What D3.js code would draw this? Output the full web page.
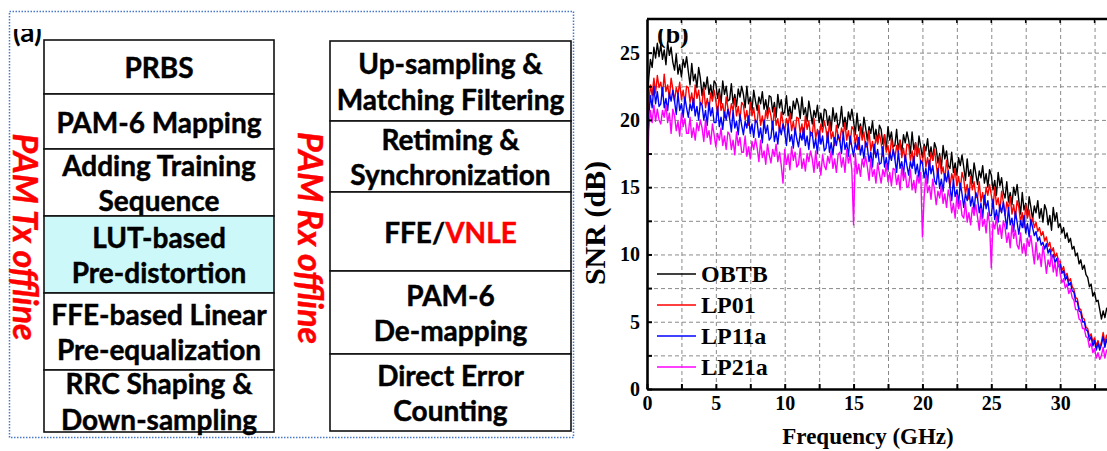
<!DOCTYPE html>
<html>
<head>
<meta charset="utf-8">
<script src="https://cdn.jsdelivr.net/npm/d3@7"></script>
<style>
  body { margin: 0; background: #fff; }
  .block { font-family: Lato, "Open Sans", sans-serif; font-weight: bold; font-size: 28px; stroke-width: 0.45px; }
  .side { font-family: Lato, "Open Sans", sans-serif; font-weight: bold; font-style: italic; font-size: 34px; fill: #ff0000; stroke: #ff0000; stroke-width: 0.4px; }
  .serif { font-family: "Liberation Serif", "Times New Roman", serif; font-weight: bold; fill: #000; }
</style>
</head>
<body>
<div id="fig"></div>
<script>
// ---- data -----------------------------------------------------------
// left panel: processing blocks (one entry per box, one string per text line)
var txBlocks = [
    ["PRBS"],
    ["PAM-6 Mapping"],
    ["Adding Training", "Sequence"],
    ["LUT-based", "Pre-distortion"],
    ["FFE-based Linear", "Pre-equalization"],
    ["RRC Shaping &", "Down-sampling"]
];
var rxBlocks = [
    ["Up-sampling &", "Matching Filtering"],
    ["Retiming &", "Synchronization"],
    ["FFE/|VNLE"],
    ["PAM-6", "De-mapping"],
    ["Direct Error", "Counting"]
];
var highlightedBlock = "LUT-based";

// right panel: SNR (dB), one sample every 0.125 GHz starting at 0 GHz (8 per row = 1 GHz)
var freqStep = 0.125;
var obtb = [
    20.5, 23.1, 24.5, 23.9, 25.4, 24.6, 25.7, 24.7,
    25.6, 24.5, 25.2, 24.1, 25.8, 24.8, 25.4, 24.3,
    23.7, 24.9, 23.4, 24.1, 23.2, 24.5, 23.9, 24.7,
    23.6, 22.6, 24.2, 22.9, 23.4, 22.4, 23.9, 23.1,
    21.8, 22.8, 22.3, 23.2, 21.9, 22.6, 21.6, 22.9,
    22.7, 21.6, 22.3, 21.2, 22.9, 21.9, 22.5, 21.4,
    21.5, 22.7, 21.2, 21.9, 21.0, 22.3, 21.7, 22.5,
    21.9, 20.9, 22.5, 21.2, 21.7, 20.7, 22.2, 21.4,
    20.7, 21.7, 21.2, 22.1, 20.8, 21.5, 20.5, 21.8,
    21.7, 20.6, 21.3, 20.2, 21.9, 20.9, 21.5, 20.4,
    20.6, 21.8, 20.3, 21.0, 20.1, 21.4, 20.8, 21.6,
    21.1, 20.1, 21.7, 20.4, 20.9, 19.9, 21.4, 20.6,
    19.7, 20.7, 20.2, 21.1, 19.8, 20.5, 19.5, 20.8,
    20.7, 19.6, 20.3, 19.2, 20.9, 19.9, 20.5, 19.4,
    19.8, 21.0, 19.5, 20.2, 19.3, 20.6, 20.0, 20.8,
    19.9, 18.9, 20.5, 19.2, 19.7, 18.7, 20.2, 19.4,
    18.5, 19.5, 19.0, 19.9, 18.6, 19.3, 18.3, 19.6,
    19.3, 18.2, 18.9, 17.8, 19.5, 18.5, 19.1, 18.0,
    18.1, 19.3, 17.8, 18.5, 17.6, 18.9, 18.3, 19.1,
    18.5, 17.5, 19.1, 17.8, 18.3, 17.3, 18.8, 18.0,
    17.2, 18.2, 17.7, 18.6, 17.3, 18.0, 17.0, 18.3,
    17.9, 16.8, 17.5, 16.4, 18.1, 17.1, 17.7, 16.6,
    16.4, 17.6, 16.1, 16.8, 15.9, 17.2, 16.6, 17.4,
    16.5, 15.5, 17.1, 15.8, 16.3, 15.3, 16.8, 16.0,
    15.2, 16.2, 15.7, 16.6, 15.3, 16.0, 15.0, 16.3,
    15.9, 14.8, 15.5, 14.4, 16.1, 15.1, 15.7, 14.6,
    14.2, 15.4, 13.9, 14.6, 13.7, 15.0, 14.4, 15.2,
    14.0, 13.0, 14.6, 13.3, 13.8, 12.8, 14.3, 13.5,
    12.6, 13.6, 13.1, 14.0, 12.7, 13.4, 12.4, 13.7,
    13.3, 12.2, 12.9, 11.8, 13.5, 12.5, 13.1, 12.0,
    12.3, 11.6, 12.0, 11.2, 11.6, 10.9, 11.2, 10.4,
    10.6, 9.9, 10.1, 9.3, 9.6, 8.9, 9.2, 8.5,
    8.3, 7.6, 7.8, 6.9, 7.2, 6.5, 6.6, 5.9,
    5.2, 5.8, 5.3, 6.0, 5.6
];
var lp01 = [
    18.5, 21.2, 22.6, 21.8, 23.1, 22.0, 23.3, 22.4,
    22.8, 21.8, 23.4, 22.1, 22.6, 21.6, 23.1, 22.3,
    21.4, 22.4, 21.9, 22.8, 21.5, 22.2, 21.2, 22.5,
    22.4, 21.3, 22.0, 20.9, 22.6, 21.6, 22.2, 21.1,
    21.2, 22.4, 20.9, 21.6, 20.7, 22.0, 21.4, 22.2,
    21.4, 20.4, 22.0, 20.7, 21.2, 20.2, 21.7, 20.9,
    20.2, 21.2, 20.7, 21.6, 20.3, 21.0, 20.0, 21.3,
    21.1, 20.0, 20.7, 19.6, 21.3, 20.3, 20.9, 19.8,
    19.9, 21.1, 19.6, 20.3, 19.4, 20.7, 20.1, 20.9,
    20.3, 19.3, 20.9, 19.6, 20.1, 19.1, 20.6, 19.8,
    19.1, 20.1, 19.6, 20.5, 19.2, 19.9, 18.9, 20.2,
    20.1, 19.0, 19.7, 18.6, 20.3, 19.3, 19.9, 18.8,
    18.9, 20.1, 18.6, 19.3, 18.4, 19.7, 19.1, 19.9,
    19.3, 18.3, 19.9, 18.6, 19.1, 18.1, 19.6, 18.8,
    18.4, 19.4, 18.9, 19.8, 18.5, 19.2, 18.2, 19.5,
    19.3, 18.2, 18.9, 17.8, 19.5, 18.5, 19.1, 18.0,
    18.0, 19.2, 17.7, 18.4, 17.5, 18.8, 18.2, 19.0,
    18.3, 17.3, 18.9, 17.6, 18.1, 17.1, 18.6, 17.8,
    17.1, 18.1, 17.6, 18.5, 17.2, 17.9, 16.9, 18.2,
    18.1, 17.0, 17.7, 16.6, 18.3, 17.3, 17.9, 16.8,
    16.8, 18.0, 16.5, 17.2, 16.3, 17.6, 17.0, 17.8,
    16.7, 15.7, 17.3, 16.0, 16.5, 15.5, 17.0, 16.2,
    15.0, 16.0, 15.5, 16.4, 15.1, 15.8, 14.8, 16.1,
    15.6, 14.5, 15.2, 14.1, 15.8, 14.8, 15.4, 14.3,
    14.2, 15.4, 13.9, 14.6, 13.7, 15.0, 14.4, 15.2,
    14.4, 13.4, 15.0, 13.7, 14.2, 13.2, 14.7, 13.9,
    12.9, 13.9, 13.4, 14.3, 13.0, 13.7, 12.7, 14.0,
    13.5, 12.4, 13.1, 12.0, 13.7, 12.7, 13.3, 12.2,
    12.7, 12.0, 12.4, 11.7, 12.0, 11.4, 11.7, 11.0,
    11.3, 10.6, 10.9, 10.2, 10.5, 9.8, 10.1, 9.5,
    9.5, 8.8, 9.1, 8.4, 8.6, 8.0, 8.2, 7.6,
    7.4, 6.8, 6.7, 6.0, 5.9, 5.3, 5.2, 4.6,
    4.5, 3.9, 4.1, 3.5, 3.8, 3.2, 3.6, 3.1,
    3.5, 4.2, 3.4, 4.0, 3.6
];
var lp11a = [
    17.8, 20.3, 21.8, 20.9, 22.5, 21.2, 22.1, 21.0,
    21.2, 22.4, 20.9, 21.6, 20.7, 22.0, 21.4, 22.2,
    21.4, 20.4, 22.0, 20.7, 21.2, 20.2, 21.7, 20.9,
    20.2, 21.2, 20.7, 21.6, 20.3, 21.0, 20.0, 21.3,
    21.1, 20.0, 20.7, 19.6, 21.3, 20.3, 20.9, 19.8,
    19.8, 21.0, 19.5, 20.2, 19.3, 20.6, 20.0, 20.8,
    20.1, 19.1, 20.7, 19.4, 19.9, 18.9, 20.4, 19.6,
    18.9, 19.9, 19.4, 20.3, 19.0, 19.7, 18.7, 20.0,
    19.8, 18.7, 19.4, 18.3, 20.0, 19.0, 19.6, 18.5,
    18.7, 19.9, 18.4, 19.1, 18.2, 19.5, 18.9, 19.7,
    19.1, 18.1, 19.7, 18.4, 18.9, 17.9, 19.4, 18.6,
    18.0, 19.0, 18.5, 19.4, 18.1, 18.8, 17.8, 19.1,
    19.0, 17.9, 18.6, 17.5, 19.2, 18.2, 18.8, 17.7,
    17.9, 19.1, 17.6, 18.3, 17.4, 18.7, 18.1, 18.9,
    18.5, 17.5, 19.1, 17.8, 18.3, 17.3, 18.8, 18.0,
    17.3, 18.3, 17.8, 18.7, 17.4, 18.1, 17.1, 18.4,
    18.0, 16.9, 17.6, 16.5, 18.2, 17.2, 17.8, 16.7,
    16.8, 18.0, 16.5, 17.2, 16.3, 17.6, 17.0, 17.8,
    17.1, 16.1, 17.7, 16.4, 16.9, 15.9, 17.4, 16.6,
    15.9, 16.9, 16.4, 17.3, 16.0, 16.7, 15.7, 17.0,
    16.8, 15.7, 16.4, 15.3, 17.0, 16.0, 16.6, 15.5,
    15.2, 16.4, 14.9, 15.6, 14.7, 16.0, 15.4, 16.2,
    15.0, 14.0, 15.6, 14.3, 14.8, 13.8, 15.3, 14.5,
    13.5, 14.5, 14.0, 14.9, 13.6, 14.3, 13.3, 14.6,
    14.2, 13.1, 13.8, 12.7, 14.4, 13.4, 14.0, 12.9,
    12.9, 14.1, 12.6, 13.3, 12.4, 13.7, 13.1, 13.9,
    12.9, 11.9, 13.5, 12.2, 12.7, 11.7, 13.2, 12.4,
    11.5, 12.5, 12.0, 12.9, 11.6, 12.3, 11.3, 12.6,
    12.0, 11.4, 11.7, 11.0, 11.3, 10.7, 10.9, 10.4,
    10.8, 10.1, 10.4, 9.7, 10.0, 9.4, 9.7, 9.1,
    9.3, 8.6, 8.8, 8.1, 8.4, 7.7, 7.9, 7.3,
    7.2, 6.5, 6.5, 5.8, 5.7, 5.0, 5.0, 4.4,
    4.3, 3.6, 3.9, 3.2, 3.6, 2.9, 3.4, 2.9,
    3.3, 3.9, 3.1, 3.7, 3.2
];
var lp21a = [
    14.0, 19.2, 20.7, 19.8, 21.1, 19.9, 20.8, 20.0,
    19.7, 20.7, 20.2, 21.1, 19.8, 20.5, 19.0, 20.8,
    20.3, 19.2, 19.9, 18.8, 20.5, 19.5, 20.1, 19.0,
    19.0, 20.2, 18.7, 19.4, 18.5, 19.8, 19.2, 20.0,
    19.4, 18.4, 20.0, 18.7, 19.2, 18.2, 19.7, 18.9,
    18.0, 19.0, 18.5, 19.4, 18.1, 18.8, 17.8, 19.1,
    18.9, 17.8, 18.5, 17.4, 19.1, 18.1, 18.7, 17.6,
    17.6, 18.8, 17.3, 18.0, 17.1, 18.4, 17.8, 18.6,
    17.9, 16.9, 18.5, 17.2, 17.7, 16.7, 18.2, 17.4,
    16.8, 17.8, 17.3, 18.2, 16.9, 17.6, 16.6, 15.3,
    17.8, 16.7, 17.4, 16.3, 18.0, 17.0, 17.6, 16.5,
    16.7, 17.9, 16.4, 17.1, 16.2, 17.5, 16.9, 17.7,
    17.1, 16.1, 17.7, 16.4, 16.9, 15.9, 17.4, 16.6,
    16.3, 17.3, 16.8, 17.7, 16.4, 17.1, 16.1, 17.4,
    17.6, 16.5, 17.2, 16.1, 17.8, 16.8, 17.4, 16.3,
    12.2, 17.5, 16.0, 16.7, 15.8, 17.1, 16.5, 17.3,
    16.5, 15.5, 17.1, 15.8, 16.3, 15.3, 16.8, 16.0,
    15.3, 16.3, 15.8, 16.7, 15.4, 16.1, 15.1, 16.4,
    16.3, 15.2, 15.9, 14.8, 16.5, 15.5, 16.1, 15.0,
    15.1, 16.3, 14.8, 15.5, 14.6, 15.9, 15.3, 16.1,
    11.3, 14.3, 15.9, 14.6, 15.1, 14.1, 15.6, 14.8,
    13.7, 14.7, 14.2, 15.1, 13.8, 14.5, 13.5, 14.8,
    14.2, 13.1, 13.8, 12.7, 14.4, 13.4, 14.0, 12.9,
    12.7, 13.9, 12.4, 13.1, 12.2, 13.5, 12.9, 13.7,
    12.8, 11.8, 13.4, 12.1, 12.6, 11.6, 13.1, 12.3,
    9.0, 12.4, 11.9, 12.8, 11.5, 12.2, 11.2, 12.5,
    12.0, 10.9, 11.6, 10.5, 12.2, 11.2, 11.8, 10.7,
    10.4, 11.6, 10.1, 10.8, 9.9, 11.2, 10.6, 11.4,
    10.3, 9.3, 10.9, 9.6, 10.1, 9.1, 10.6, 9.8,
    8.6, 9.6, 9.1, 10.0, 8.7, 9.4, 8.4, 9.7,
    8.6, 7.9, 8.2, 7.5, 7.8, 7.1, 7.4, 6.8,
    6.6, 5.9, 5.9, 5.2, 5.1, 4.5, 4.5, 3.9,
    3.8, 3.1, 3.4, 2.7, 3.0, 2.3, 2.7, 2.2,
    2.5, 3.1, 2.3, 2.9, 2.6
];
var seriesNames = ["OBTB", "LP01", "LP11a", "LP21a"];
var seriesColors = ["#000000", "#ff0000", "#0000ff", "#ff00ff"];
var xTickLabels = [0, 5, 10, 15, 20, 25, 30];
var yTickLabels = [0, 5, 10, 15, 20, 25];
var gridStep = 2.5;

// ---- layout ---------------------------------------------------------
var width = 1107, height = 451;
var plot = {left: 647, top: 19, right: 1129, bottom: 389};
var txCol = {x0: 44, x1: 274, edges: [40, 94, 149, 216, 293, 370, 432]};
var rxCol = {x0: 330, x1: 571, edges: [41, 121, 192, 271, 354, 431]};
var lineGap = 35.5;

var svg = d3.select("#fig").append("svg")
    .attr("width", width)
    .attr("height", height);

var defs = svg.append("defs");
defs.append("clipPath").attr("id", "plotClip")
    .append("rect")
    .attr("x", plot.left).attr("y", plot.top)
    .attr("width", plot.right - plot.left).attr("height", plot.bottom - plot.top);
// the panel letters are half hidden in the original figure
defs.append("clipPath").attr("id", "letterClip")
    .append("rect")
    .attr("x", 0).attr("y", 29).attr("width", width).attr("height", 40);

/**
 * Draw one column of boxes with their (multi line) labels.
 */
function drawBlocks(blocks, col) {
    var g = svg.append("g");
    var cx = (col.x0 + col.x1) / 2;
    blocks.forEach(function(lines, i) {
        var y0 = col.edges[i], y1 = col.edges[i + 1];
        g.append("rect")
            .attr("x", col.x0).attr("y", y0)
            .attr("width", col.x1 - col.x0).attr("height", y1 - y0)
            .attr("fill", lines[0] === highlightedBlock ? "#ccf8fa" : "#fff")
            .attr("stroke", "#111")
            .attr("stroke-width", 1.6);
        var cy = (y0 + y1) / 2;
        lines.forEach(function(line, j) {
            var t = g.append("text")
                .attr("class", "block")
                .attr("x", cx)
                .attr("y", cy + (j - (lines.length - 1) / 2) * lineGap)
                .attr("text-anchor", "middle")
                .attr("dominant-baseline", "central");
            // "|" splits a black part from a red part
            line.split("|").forEach(function(part, k) {
                var c = k === 0 ? "#000" : "#ff0000";
                t.append("tspan").text(part).attr("fill", c).attr("stroke", c);
            });
        });
    });
}

// dotted frame round the left panel
svg.append("rect")
    .attr("x", 9.5).attr("y", 11.5).attr("width", 564).attr("height", 426)
    .attr("fill", "none")
    .attr("stroke", "#4a78c8")
    .attr("stroke-width", 1.5)
    .attr("stroke-dasharray", "1.5,1.5");

svg.append("text")
    .attr("class", "block")
    .attr("x", 13).attr("y", 42)
    .attr("font-size", 24)
    .attr("clip-path", "url(#letterClip)")
    .text("(a)");

drawBlocks(txBlocks, txCol);
drawBlocks(rxBlocks, rxCol);

svg.append("text").attr("class", "side")
    .attr("transform", "translate(26,237) rotate(90)")
    .attr("text-anchor", "middle").attr("dominant-baseline", "central")
    .text("PAM Tx offline");
svg.append("text").attr("class", "side")
    .attr("transform", "translate(311,238) rotate(90)")
    .attr("text-anchor", "middle").attr("dominant-baseline", "central")
    .text("PAM Rx offline");

// ---- SNR chart ------------------------------------------------------
var x = d3.scaleLinear().domain([0, 35]).range([plot.left, plot.right]);
var y = d3.scaleLinear().domain([0, 27.5]).range([plot.bottom, plot.top]);

var gridX = d3.range(gridStep, 33, gridStep);
var gridY = d3.range(gridStep, 27, gridStep);
var tickX = d3.range(0, 33, gridStep);
var tickY = d3.range(0, 27, gridStep);

// dashed grid
svg.append("g")
    .attr("transform", "translate(0," + plot.bottom + ")")
    .call(d3.axisBottom(x).tickValues(gridX).tickSize(-(plot.bottom - plot.top)).tickFormat(""))
    .call(function(g) { g.select(".domain").remove(); })
    .selectAll("line")
    .attr("stroke", "#8a8a8a").attr("stroke-width", 1).attr("stroke-dasharray", "4,3");
svg.append("g")
    .attr("transform", "translate(" + plot.left + ",0)")
    .call(d3.axisLeft(y).tickValues(gridY).tickSize(-(plot.right - plot.left)).tickFormat(""))
    .call(function(g) { g.select(".domain").remove(); })
    .selectAll("line")
    .attr("stroke", "#8a8a8a").attr("stroke-width", 1).attr("stroke-dasharray", "4,3");

// the four SNR traces
var allSeries = [obtb, lp01, lp11a, lp21a];
var line = d3.line()
    .x(function(d, i) { return x(i * freqStep); })
    .y(function(d) { return y(d); });

svg.append("g")
    .attr("clip-path", "url(#plotClip)")
    .selectAll("path")
    .data(allSeries)
    .enter()
    .append("path")
    .attr("d", line)
    .attr("fill", "none")
    .attr("stroke", function(d, i) { return seriesColors[i]; })
    .attr("stroke-width", 1.4)
    .attr("stroke-linejoin", "round");

// axes
var xAxis = svg.append("g")
    .attr("transform", "translate(0," + plot.bottom + ")")
    .call(d3.axisBottom(x).tickValues(tickX).tickSize(-5).tickSizeOuter(0).tickPadding(7)
        .tickFormat(function(d) { return xTickLabels.indexOf(d) >= 0 ? d : ""; }));
var yAxis = svg.append("g")
    .attr("transform", "translate(" + plot.left + ",0)")
    .call(d3.axisLeft(y).tickValues(tickY).tickSize(-5).tickSizeOuter(0).tickPadding(7)
        .tickFormat(function(d) { return yTickLabels.indexOf(d) >= 0 ? d : ""; }));
[xAxis, yAxis].forEach(function(g) {
    g.select(".domain").attr("stroke", "#000").attr("stroke-width", 2.6);
    g.selectAll("line").attr("stroke", "#000").attr("stroke-width", 2);
    g.selectAll("text").attr("class", "serif").attr("font-size", 20).attr("fill", "#000");
});

// top frame line with small ticks
svg.append("line")
    .attr("x1", plot.left).attr("x2", plot.right)
    .attr("y1", plot.top).attr("y2", plot.top)
    .attr("stroke", "#000").attr("stroke-width", 2.6);
svg.append("g").selectAll("line")
    .data(gridX)
    .enter()
    .append("line")
    .attr("x1", function(d) { return x(d); }).attr("x2", function(d) { return x(d); })
    .attr("y1", plot.top).attr("y2", plot.top + 4)
    .attr("stroke", "#000").attr("stroke-width", 1.5);

// axis titles
svg.append("text").attr("class", "serif")
    .attr("x", 868).attr("y", 444)
    .attr("text-anchor", "middle")
    .attr("font-size", 23)
    .text("Frequency (GHz)");
svg.append("text").attr("class", "serif")
    .attr("transform", "translate(605,223) rotate(-90)")
    .attr("text-anchor", "middle")
    .attr("font-size", 30)
    .text("SNR (dB)");

svg.append("text").attr("class", "serif")
    .attr("x", 657).attr("y", 43)
    .attr("font-size", 26)
    .attr("clip-path", "url(#letterClip)")
    .text("(b)");

// legend
var legend = svg.append("g")
    .selectAll("g")
    .data(seriesNames)
    .enter()
    .append("g")
    .attr("transform", function(d, i) { return "translate(657," + (274 + i * 31) + ")"; });
legend.append("line")
    .attr("x1", 0).attr("x2", 39)
    .attr("stroke", function(d, i) { return seriesColors[i]; })
    .attr("stroke-width", 1.5);
legend.append("text").attr("class", "serif")
    .attr("x", 44)
    .attr("dy", "0.35em")
    .attr("font-size", 24)
    .text(function(d) { return d; });
</script>
</body>
</html>
